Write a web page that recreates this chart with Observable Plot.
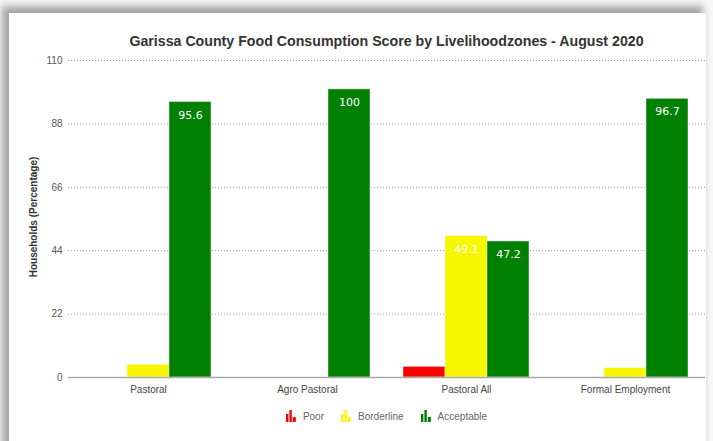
<!DOCTYPE html>
<html><head><meta charset="utf-8">
<script src="https://cdn.jsdelivr.net/npm/d3@7"></script>
<script src="https://cdn.jsdelivr.net/npm/@observablehq/plot@0.6"></script>
<style>
html,body{margin:0;padding:0;background:#f6f6f6;width:713px;height:441px;overflow:hidden;position:relative;}
#card{position:absolute;left:9px;top:13px;width:697px;height:440px;background:#fff;box-shadow:-5px -5px 7px 2px rgba(0,0,0,0.33);}
#title{position:absolute;left:68px;width:637px;top:33px;text-align:center;font:bold 14.2px "Liberation Sans",Arial,sans-serif;color:#333;}
#ylab{position:absolute;left:33px;top:217px;transform:translate(-50%,-50%) rotate(-90deg);font:bold 10px "Liberation Sans",Arial,sans-serif;color:#333;white-space:nowrap;}
#chart{position:absolute;left:0;top:50px;}
#legend{position:absolute;left:68px;width:637px;top:410px;display:flex;justify-content:center;gap:17px;font:10px "Liberation Sans",Arial,sans-serif;color:#666;}
#legend .it{display:flex;align-items:center;gap:7px;}
</style></head>
<body>
<div id="card"></div>
<div id="title">Garissa County Food Consumption Score by Livelihoodzones - August 2020</div>
<div id="ylab">Households (Percentage)</div>
<div id="chart"></div>
<div id="legend"></div>
<script>
const zones = ["Pastoral", "Agro Pastoral", "Pastoral All", "Formal Employment"];
const categories = ["Poor", "Borderline", "Acceptable"];
const poor = [0, 0, 3.7, 0];
const borderline = [4.4, 0, 49.1, 3.3];
const acceptable = [95.6, 100, 47.2, 96.7];
const yTicks = [0, 22, 44, 66, 88, 110];
const colors = ["#ff0000", "#f7f700", "#008000"];

const series = [poor, borderline, acceptable];
const data = zones.flatMap((z, i) => categories.map((c, j) => ({zone: z, cat: c, value: series[j][i]})));

const W = 713, ML = 68, MR = 8;
const frameW = W - ML - MR;

function build(shift) {
  return Plot.plot({
    width: W, height: 360,
    marginLeft: ML, marginRight: MR, marginTop: 10, marginBottom: 33,
    style: {background: "transparent", fontFamily: "'Liberation Sans', Arial, sans-serif"},
    fx: {domain: zones, paddingInner: 0.21, paddingOuter: 0.105, label: null},
    x: {domain: categories, padding: 0, axis: null},
    y: {domain: [0, 110], ticks: yTicks, label: null},
    color: {domain: categories, range: colors},
    marks: [
      Plot.axisY(yTicks.filter(t => t > 0), {tickSize: -frameW, dx: -shift, text: null, stroke: "#999", strokeDasharray: "1,2", label: null}),
      Plot.axisY(yTicks, {tickSize: 0, tickPadding: 6, dx: -shift, fontSize: 10, fill: "#555", label: null}),
      Plot.barY(data.filter(d => d.value > 0), {fx: "zone", x: "cat", y: "value", fill: "cat", stroke: "white", strokeOpacity: 0.45, strokeWidth: 1}),
      Plot.text(data.filter(d => d.value > 10), {fx: "zone", x: "cat", y: "value", text: d => String(d.value), dy: 13, fill: "white", fontSize: 11, fontFamily: "DejaVu Sans"}),
      Plot.axisY([0], {tickSize: -frameW, dx: -shift, text: null, stroke: "#aaa", strokeWidth: 1.5, label: null}),
      Plot.axisFx({anchor: "bottom", tickSize: 0, tickPadding: 8, fontSize: 10, fill: "#444", label: null})
    ]
  });
}
const probe = build(0);
const shift = probe.scale("fx").apply(zones[0]) - ML;
const chart = build(shift);
document.getElementById("chart").appendChild(chart);

const legend = document.getElementById("legend");
categories.forEach((c, j) => {
  const it = document.createElement("div");
  it.className = "it";
  it.innerHTML = `<svg width="10" height="12" viewBox="0 0 10 12"><rect x="0" y="4" width="2.4" height="8" fill="${colors[j]}"/><rect x="3.4" y="0" width="2.4" height="12" fill="${colors[j]}"/><rect x="6.8" y="7" width="3" height="5" fill="${colors[j]}"/></svg><span>${c}</span>`;
  legend.appendChild(it);
});
</script>
</body></html>
